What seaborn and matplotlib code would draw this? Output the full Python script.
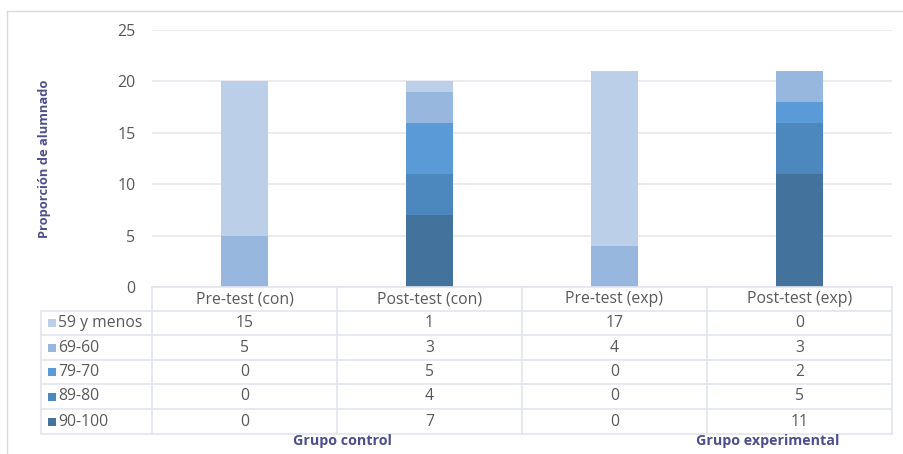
import matplotlib
matplotlib.use("Agg")
import matplotlib.pyplot as plt
from matplotlib.lines import Line2D
from matplotlib.patches import Rectangle
import seaborn as sns

# Test sessions (columns) and grade bands (rows of the data table)
categories = ["Pre-test (con)", "Post-test (con)", "Pre-test (exp)", "Post-test (exp)"]
bands = ["59 y menos", "69-60", "79-70", "89-80", "90-100"]

menos_59 = [15, 1, 17, 0]
r60_69 = [5, 3, 4, 3]
r70_79 = [0, 5, 0, 2]
r80_89 = [0, 4, 0, 5]
r90_100 = [0, 7, 0, 11]

band_colors = ["#BCCFE9", "#97B7DF", "#5A9AD6", "#4C88BE", "#43729D"]
group_labels = ["Grupo control", "Grupo experimental"]
y_label = "Proporción de alumnado"
y_ticks = [0, 5, 10, 15, 20, 25]

series = [menos_59, r60_69, r70_79, r80_89, r90_100]

sns.set_theme(style="white")
plt.rcParams["font.family"] = ["Open Sans", "DejaVu Sans"]

W, H = 904, 454
fig = plt.figure(figsize=(W / 100, H / 100), dpi=100)
fig.patch.set_facecolor("white")


def fx(px):
    return px / W


def fy(py):
    return 1 - py / H


TEXT = "#595959"
TITLE = "#4E4E8E"
LINE = "#E2E5ED"
FS = 11.3

# Plot area
ax = fig.add_axes([fx(152), fy(287), (892 - 152) / W, (287 - 30) / H])

# Stacked bars: 90-100 at the bottom, "59 y menos" on top.
# Draw cumulative totals from the tallest down so each layer overlays the previous.
for i, (vals, col) in enumerate(zip(series, band_colors)):
    below = series[i:]
    cum = [sum(v[k] for v in below) for k in range(len(categories))]
    sns.barplot(x=categories, y=cum, color=col, saturation=1, width=0.25,
                linewidth=0, ax=ax, zorder=3)

ax.set_xlim(-0.5, 3.5)
ax.set_ylim(0, 25)
ax.set_yticks(y_ticks)
ax.set_yticklabels([str(t) for t in y_ticks], color=TEXT, fontsize=11.5)
ax.tick_params(axis="y", length=0, pad=12)
ax.set_xticks([])
ax.set_xlabel("")
ax.set_ylabel("")
ax.yaxis.grid(True, color="#E4E6EE", linewidth=1.1)
ax.set_axisbelow(True)
for s in ax.spines.values():
    s.set_visible(False)

fig.text(fx(45), fy(159), y_label, rotation=90, ha="center", va="center",
         fontsize=9.3, fontweight="bold", color=TITLE)

# Outer chart frame (top and left edges)
fig.add_artist(Line2D([fx(7), fx(7)], [fy(11), 0], transform=fig.transFigure,
                      color="#D9D9D9", lw=1))
fig.add_artist(Line2D([fx(7), 1], [fy(11), fy(11)], transform=fig.transFigure,
                      color="#D9D9D9", lw=1))

# Data table below the plot
col_edges = [152, 337, 522, 707, 892]
row_edges = [311, 335, 360, 384, 409, 434]
header_top = 287

def hline(x0, x1, y):
    fig.add_artist(Line2D([fx(x0), fx(x1)], [fy(y), fy(y)],
                          transform=fig.transFigure, color=LINE, lw=1.2))

def vline(x, y0, y1):
    fig.add_artist(Line2D([fx(x), fx(x)], [fy(y0), fy(y1)],
                          transform=fig.transFigure, color=LINE, lw=1.2))

hline(152, 892, header_top)
for y in row_edges:
    hline(41, 892, y)
vline(41, row_edges[0], row_edges[-1])
for x in col_edges:
    vline(x, header_top, row_edges[-1])

for j, cat in enumerate(categories):
    cx = (col_edges[j] + col_edges[j + 1]) / 2
    fig.text(fx(cx), fy((header_top + row_edges[0]) / 2), cat, ha="center",
             va="center", fontsize=FS, color=TEXT)
    for i, vals in enumerate(series):
        cy = (row_edges[i] + row_edges[i + 1]) / 2
        fig.text(fx(cx), fy(cy), str(vals[j]), ha="center", va="center",
                 fontsize=FS, color=TEXT)

for i, (band, col) in enumerate(zip(bands, band_colors)):
    cy = (row_edges[i] + row_edges[i + 1]) / 2
    fig.add_artist(Rectangle((fx(48), fy(cy + 4)), 8 / W, 8 / H,
                             transform=fig.transFigure, color=col, lw=0))
    fig.text(fx(58), fy(cy), band, ha="left", va="center", fontsize=FS,
             color=TEXT)

fig.text(fx(342), fy(441), group_labels[0], ha="center", va="center",
         fontsize=10.3, fontweight="bold", color=TITLE)
fig.text(fx(768), fy(441), group_labels[1], ha="center", va="center",
         fontsize=10.3, fontweight="bold", color=TITLE)

fig.savefig("out.png", dpi=100, facecolor="white")
